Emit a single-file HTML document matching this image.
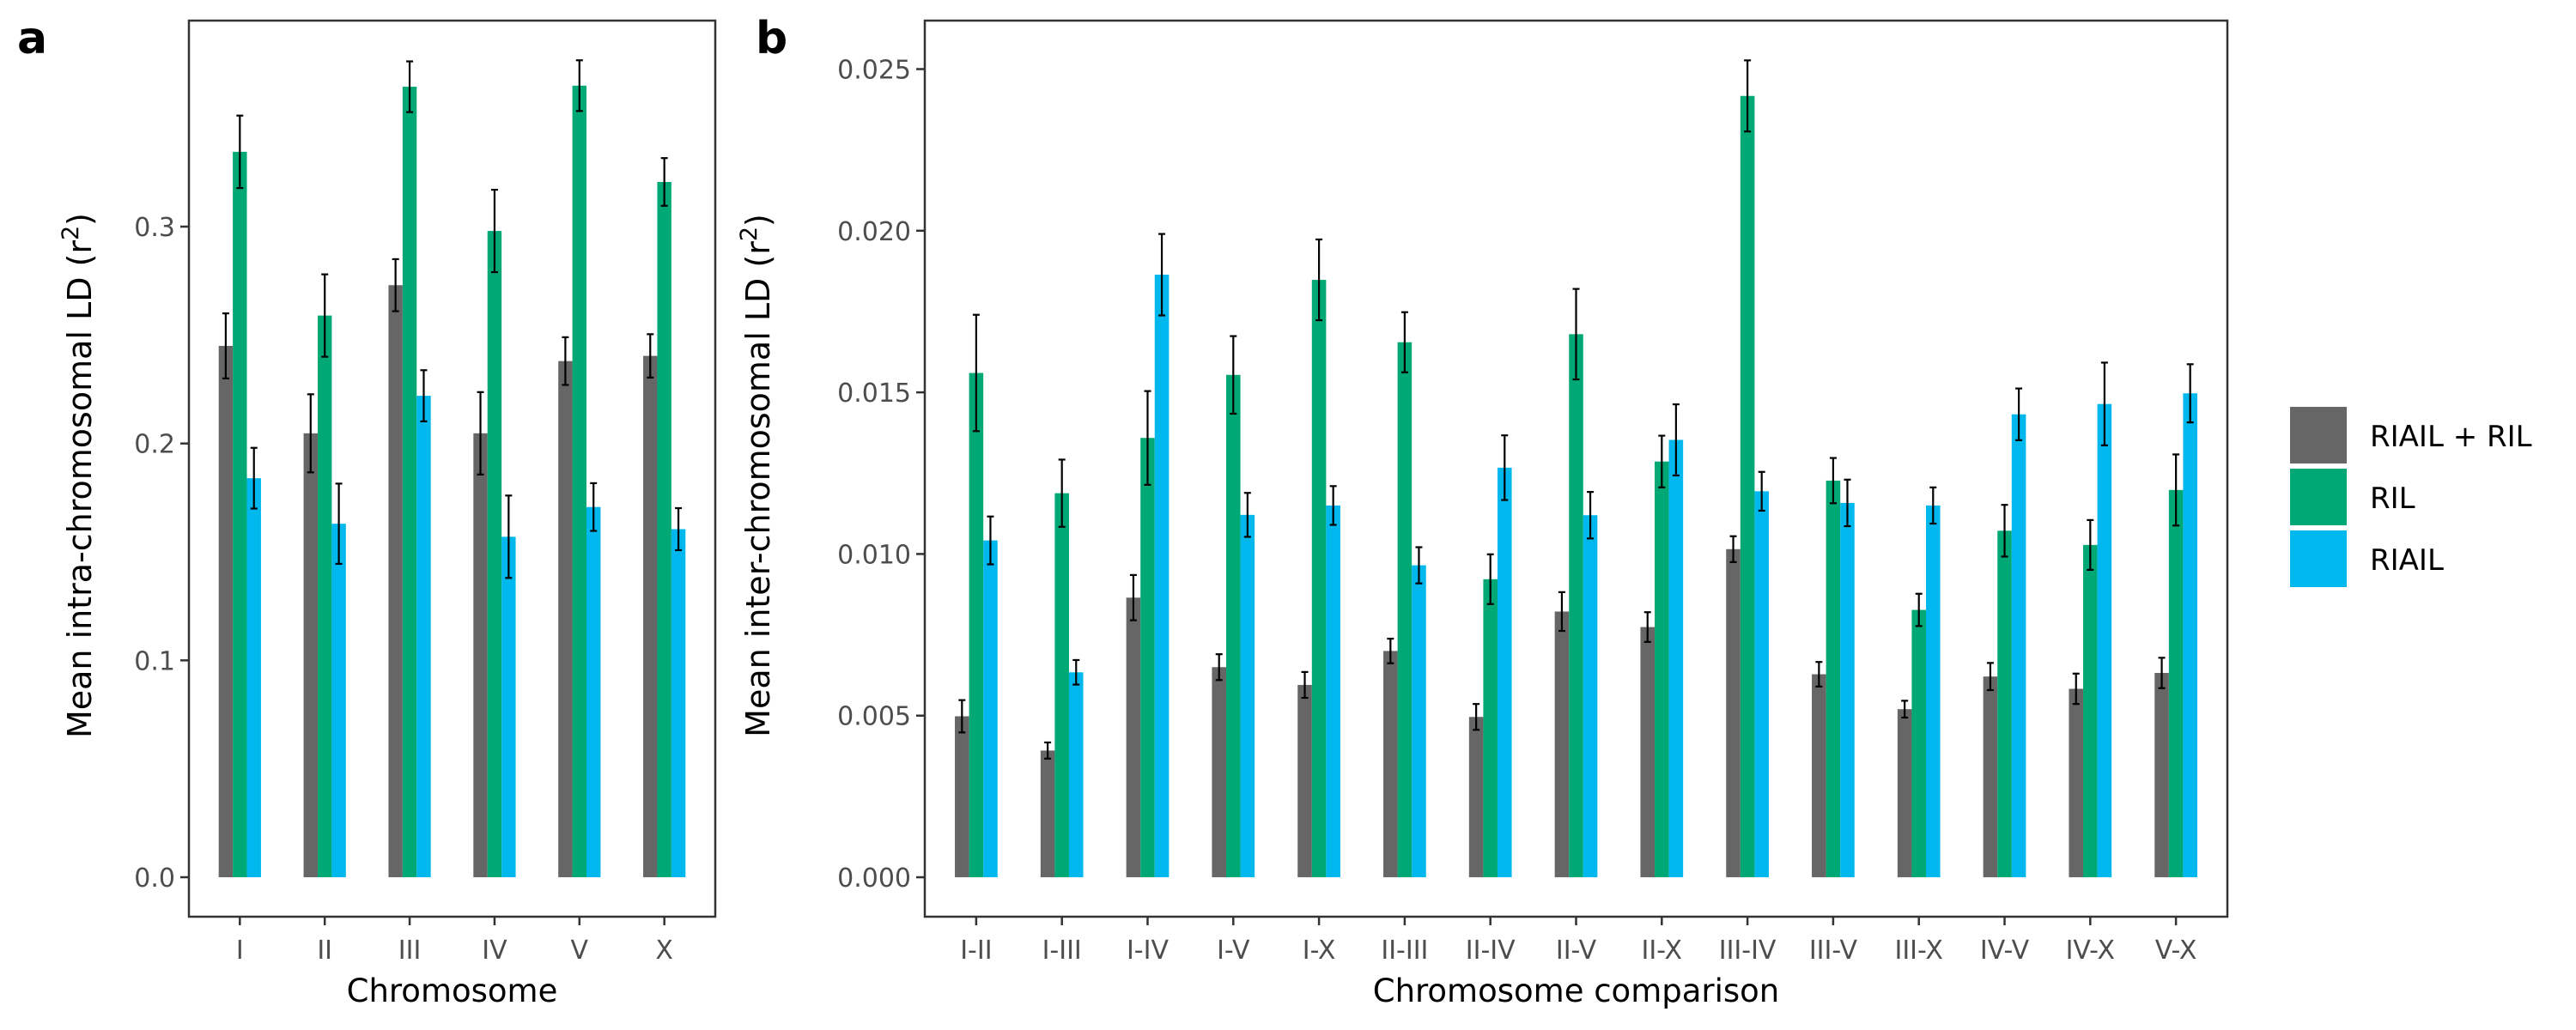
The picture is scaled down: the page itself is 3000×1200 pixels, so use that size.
<!DOCTYPE html>
<html><head><meta charset="utf-8">
<style>
html,body{margin:0;padding:0;background:#fff;}
svg{display:block;font-family:"DejaVu Sans","Liberation Sans",sans-serif;}
</style></head>
<body>
<svg id="chart" width="3000" height="1200" viewBox="0 0 3000 1200" xmlns="http://www.w3.org/2000/svg">
<text x="20" y="62" font-size="52" font-weight="bold">a</text>
<text x="880" y="62" font-size="52" font-weight="bold">b</text>
<g id="pa"></g>
<g id="pb"></g>
<g id="legend"></g>
</svg>
<script>
const seriesNames = ["RIAIL + RIL","RIL","RIAIL"];
const seriesColors = ["#666666","#00A875","#00B8EE"];

const catsA = ["I","II","III","IV","V","X"];
const grayA = [0.245,0.2047,0.273,0.2047,0.238,0.2404];
const greenA = [0.3345,0.259,0.3645,0.298,0.365,0.3206];
const blueA = [0.184,0.163,0.222,0.157,0.1707,0.1605];
const grayErrA = [0.015,0.018,0.012,0.019,0.011,0.010];
const greenErrA = [0.0167,0.019,0.0117,0.019,0.0117,0.011];
const blueErrA = [0.014,0.0185,0.0118,0.019,0.011,0.0097];
const ticksA = [0,0.1,0.2,0.3];
const tickLabelsA = ["0.0","0.1","0.2","0.3"];

const catsB = ["I-II","I-III","I-IV","I-V","I-X","II-III","II-IV","II-V","II-X","III-IV","III-V","III-X","IV-V","IV-X","V-X"];
const grayB = [0.00498,0.00392,0.00865,0.0065,0.00595,0.007,0.00496,0.00822,0.00774,0.01015,0.00628,0.0052,0.00621,0.00583,0.00632];
const greenB = [0.0156,0.01188,0.01359,0.01554,0.01848,0.01655,0.00922,0.0168,0.01286,0.02417,0.01227,0.00827,0.01072,0.01028,0.01198];
const blueB = [0.01042,0.00634,0.01864,0.01121,0.0115,0.00965,0.01267,0.0112,0.01353,0.01194,0.01158,0.0115,0.01432,0.01464,0.01497];
const grayErrB = [0.0005,0.00025,0.0007,0.0004,0.0004,0.00038,0.0004,0.0006,0.00046,0.0004,0.00038,0.00026,0.00042,0.00047,0.00047];
const greenErrB = [0.0018,0.00104,0.00145,0.0012,0.00125,0.00093,0.00077,0.0014,0.0008,0.0011,0.0007,0.0005,0.0008,0.00077,0.0011];
const blueErrB = [0.00074,0.00038,0.00126,0.00068,0.0006,0.00056,0.001,0.00072,0.0011,0.0006,0.00072,0.00056,0.0008,0.00128,0.0009];
const ticksB = [0,0.005,0.01,0.015,0.02,0.025];
const tickLabelsB = ["0.000","0.005","0.010","0.015","0.020","0.025"];

const NS = "http://www.w3.org/2000/svg";
function mk(parent, tag, attrs, text){
  const e = document.createElementNS(NS, tag);
  for (const k in attrs) e.setAttribute(k, attrs[k]);
  if (text !== undefined) e.textContent = text;
  parent.appendChild(e);
  return e;
}

function panel(g, opt){
  const {left,right,top,bottom,vmin,vmax,cats,vals,errs,ticks,tickLabels,ytitle,xtitle,ytitleX,pname} = opt;
  const y = v => bottom - (v - vmin) / (vmax - vmin) * (bottom - top);
  const n = cats.length;
  const step = (right - left) / (n + 0.2);
  const x = i => left + step * 0.6 + i * step;
  const bw = step * 0.166;
  for (let i = 0; i < n; i++){
    for (let s = 0; s < 3; s++){
      const v = vals[s][i];
      const bx = x(i) - 1.5*bw + s*bw;
      const r = mk(g,'rect',{x:bx,y:y(v),width:bw,height:y(0)-y(v),fill:seriesColors[s]});
      
      
    }
  }
  for (let i = 0; i < n; i++){
    for (let s = 0; s < 3; s++){
      const v = vals[s][i], e = errs[s][i];
      const cx = x(i) - bw + s*bw;
      const eg = mk(g,'g',{stroke:'#000','stroke-width':2.2});
      
      
      mk(eg,'line',{x1:cx,x2:cx,y1:y(v+e),y2:y(v-e)});
      mk(eg,'line',{x1:cx-4,x2:cx+4,y1:y(v+e),y2:y(v+e)});
      mk(eg,'line',{x1:cx-4,x2:cx+4,y1:y(v-e),y2:y(v-e)});
    }
  }
  const fr = mk(g,'rect',{x:left,y:top,width:right-left,height:bottom-top,fill:'none',stroke:'#333','stroke-width':2.5});
  
  
  ticks.forEach((t,k)=>{
    mk(g,'line',{x1:left-10,x2:left,y1:y(t),y2:y(t),stroke:'#333','stroke-width':2.5});
    const tl = mk(g,'text',{x:left-16,y:y(t)+11,'font-size':30,fill:'#4d4d4d','text-anchor':'end'},tickLabels[k]);
    
    
  });
  cats.forEach((c,i)=>{
    mk(g,'line',{x1:x(i),x2:x(i),y1:bottom,y2:bottom+10,stroke:'#333','stroke-width':2.5});
    const tl = mk(g,'text',{x:x(i),y:bottom+49,'font-size':30,fill:'#4d4d4d','text-anchor':'middle'},c);
    
    
  });
  const xt = mk(g,'text',{x:(left+right)/2,y:bottom+99,'font-size':37,fill:'#000','text-anchor':'middle'},xtitle);
  
  
  const cy = (top+bottom)/2 + 8;
  const yt = mk(g,'text',{x:ytitleX,y:cy,'font-size':38,fill:'#000','text-anchor':'middle',transform:`rotate(-90 ${ytitleX} ${cy})`});
  
  
  yt.appendChild(document.createTextNode(ytitle+' (r'));
  mk(yt,'tspan',{'font-size':27,dy:-15},'2');
  mk(yt,'tspan',{'font-size':38,dy:15},')');
}

panel(document.getElementById('pa'),{left:220,right:833,top:24,bottom:1068,vmin:-0.0182,vmax:0.395,
  cats:catsA,vals:[grayA,greenA,blueA],errs:[grayErrA,greenErrA,blueErrA],ticks:ticksA,tickLabels:tickLabelsA,
  ytitle:'Mean intra-chromosomal LD',xtitle:'Chromosome',ytitleX:106,pname:'panel-a'});
panel(document.getElementById('pb'),{left:1077,right:2594,top:24,bottom:1068,vmin:-0.00122,vmax:0.0265,
  cats:catsB,vals:[grayB,greenB,blueB],errs:[grayErrB,greenErrB,blueErrB],ticks:ticksB,tickLabels:tickLabelsB,
  ytitle:'Mean inter-chromosomal LD',xtitle:'Chromosome comparison',ytitleX:896,pname:'panel-b'});

const lg = document.getElementById('legend');
seriesNames.forEach((nm,s)=>{
  const ky = 474 + s*72;
  const key = mk(lg,'rect',{x:2667,y:ky,width:66,height:66,fill:seriesColors[s]});
  
  
  const t = mk(lg,'text',{x:2760,y:ky+46,'font-size':34,fill:'#000'},nm);
  
  
});
</script>
</body></html>
